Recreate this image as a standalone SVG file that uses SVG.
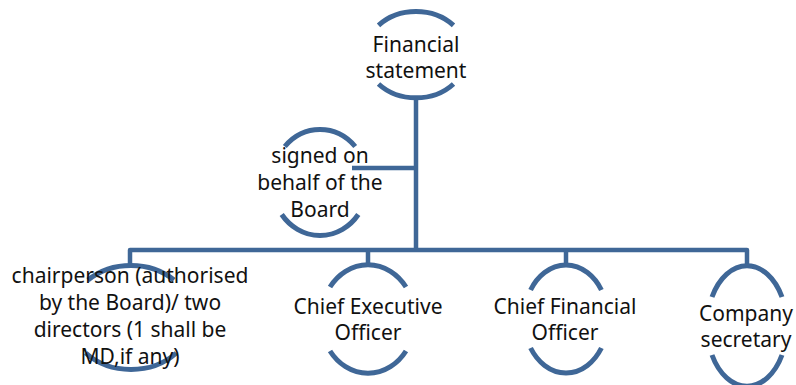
<svg xmlns="http://www.w3.org/2000/svg" width="796" height="385" viewBox="0 0 796 385">
<style>
.arc{fill:none;stroke:#3F6797;stroke-width:5}
.con{fill:none;stroke:#3F6797;stroke-width:4.5;stroke-linejoin:round}
text{font-family:"Noto Sans","Open Sans",sans-serif;font-size:21px;fill:#111;text-anchor:middle}
</style>
<rect width="796" height="385" fill="#fff"/>
<g id="connectors">
<path class="con" d="M416,97 V250"/>
<path class="con" d="M352,168 H416"/>
<path class="con" d="M130,265 V250 H747 V265"/>
<path class="con" d="M368,250 V265"/>
<path class="con" d="M566,250 V265"/>
</g>
<g id="financial-statement">
<path class="arc" d="M378.5,25.3 A51,43 0 0 1 453.5,25.3"/>
<path class="arc" d="M378.5,84 A51,43 0 0 0 453.5,84"/>
<text x="416" y="52">Financial</text>
<text x="416" y="78">statement</text>
</g>
<g id="signed-on-behalf">
<path class="arc" d="M284.8,146.5 A48,53 0 0 1 355.2,146.5"/>
<path class="arc" d="M281.7,214.5 A48,53 0 0 0 358.3,214.5"/>
<text x="320" y="163">signed on</text>
<text x="320" y="190">behalf of the</text>
<text x="320" y="217">Board</text>
</g>
<g id="chairperson">
<path class="arc" d="M88,280 A62,52 0 0 1 174,280"/>
<path class="arc" d="M85.7,353 A62,52 0 0 0 176.3,353"/>
<text x="130" y="283">chairperson (authorised</text>
<text x="130" y="310">by the Board)/ two</text>
<text x="130" y="337">directors (1 shall be</text>
<text x="130" y="364">MD,if any)</text>
</g>
<g id="ceo">
<path class="arc" d="M330,287 A47,54 0 0 1 406,287"/>
<path class="arc" d="M330,351 A47,54 0 0 0 406,351"/>
<text x="368" y="314">Chief Executive</text>
<text x="368" y="340">Officer</text>
</g>
<g id="cfo">
<path class="arc" d="M530.6,290 A42,54 0 0 1 601.4,290"/>
<path class="arc" d="M530.6,348 A42,54 0 0 0 601.4,348"/>
<text x="565" y="314">Chief Financial</text>
<text x="565" y="340">Officer</text>
</g>
<g id="company-secretary">
<path class="arc" d="M712,297 A40,60.5 0 0 1 782,297"/>
<path class="arc" d="M712,355 A40,60.5 0 0 0 782,355"/>
<text x="746" y="321">Company</text>
<text x="746" y="347">secretary</text>
</g>
</svg>
